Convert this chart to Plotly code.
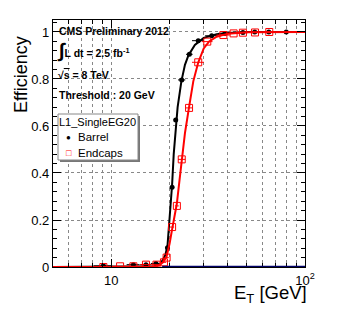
import plotly.graph_objects as go

# ---- data ----
barrel_x = [9.1, 13.0, 15.1, 17.0, 19.5, 20.6, 21.5, 23.1, 25.3, 28.1, 33.0, 38.6, 47.8, 55.0, 65.0, 80.0]
barrel_y = [0.005, 0.01, 0.01, 0.015, 0.082, 0.339, 0.626, 0.796, 0.905, 0.963, 0.984, 0.994, 0.998, 1.0, 1.0, 1.0]
barrel_xerr = [1.0, 1.0, 1.0, 1.0, 0.5, 0.5, 0.5, 1.0, 1.0, 2.0, 2.5, 3.0, 5.0, 5.0, 5.0, 10.0]

endcap_x = [9.1, 11.1, 13.0, 15.1, 17.1, 18.7, 19.3, 20.6, 21.8, 23.1, 25.2, 28.1, 31.3, 37.9, 42.8, 47.8, 55.2, 65.4]
endcap_y = [0.0, 0.003, 0.003, 0.01, 0.01, 0.02, 0.04, 0.17, 0.26, 0.458, 0.677, 0.871, 0.959, 0.987, 0.994, 0.997, 0.998, 1.0]
endcap_xerr = [1.0, 1.0, 1.0, 1.0, 1.0, 0.5, 0.5, 0.5, 0.5, 1.0, 1.0, 2.0, 2.0, 3.0, 3.0, 3.0, 5.0, 5.0]

barrel_fit_x = [5, 15, 17, 18, 19, 19.5, 20, 20.6, 21, 21.5, 22, 23, 24, 25, 27, 30, 35, 40, 50, 100]
barrel_fit_y = [0, 0, 0.003, 0.015, 0.05, 0.09, 0.2, 0.35, 0.48, 0.6, 0.68, 0.79, 0.86, 0.9, 0.945, 0.975, 0.99, 0.996, 1.0, 1.0]

endcap_fit_x = [5, 16, 17.5, 18.5, 19.3, 20, 20.6, 21.2, 21.8, 22.5, 23.1, 24, 25.2, 26.5, 28.1, 30, 32, 35, 40, 50, 100]
endcap_fit_y = [0, 0, 0.005, 0.02, 0.045, 0.1, 0.16, 0.21, 0.27, 0.37, 0.45, 0.57, 0.68, 0.79, 0.87, 0.93, 0.96, 0.98, 0.993, 0.999, 1.0]

x_tickvals = [10, 100]
x_ticktext = ["10", "10<sup>2</sup>"]
x_minor = [6, 7, 8, 9, 20, 30, 40, 50, 60, 70, 80, 90]
y_tickvals = [0, 0.2, 0.4, 0.6, 0.8, 1.0]
y_ticktext = ["0", "0.2", "0.4", "0.6", "0.8", "1"]

legend_title = "L1_SingleEG20"
series_names = ["Barrel", "Endcaps"]

FONT = "Liberation Sans, Arial, Helvetica, sans-serif"
L, R, T, B = 53, 33, 20, 46
W, H = 338, 313
PW, PH = W - L - R, H - T - B


def px(xp):
    return (xp - L) / PW


def py(yp):
    return (H - B - yp) / PH


fig = go.Figure()

fig.add_trace(go.Scatter(
    x=barrel_fit_x, y=barrel_fit_y, mode="lines",
    line=dict(color="black", width=2), showlegend=False, hoverinfo="skip"))
fig.add_trace(go.Scatter(
    x=barrel_x, y=barrel_y, mode="markers", name=series_names[0], showlegend=False,
    marker=dict(symbol="circle", color="black", size=5),
    error_x=dict(type="data", array=barrel_xerr, color="black", thickness=1, width=0)))
fig.add_trace(go.Scatter(
    x=endcap_fit_x, y=endcap_fit_y, mode="lines",
    line=dict(color="red", width=2), showlegend=False, hoverinfo="skip"))
fig.add_trace(go.Scatter(
    x=endcap_x, y=endcap_y, mode="markers", name=series_names[1], showlegend=False,
    marker=dict(symbol="square-open", color="red", size=7, line=dict(width=1)),
    error_x=dict(type="data", array=endcap_xerr, color="red", thickness=1, width=0)))

# navy baseline at zero on the right part of the frame
fig.add_shape(type="line", xref="x", yref="y", x0=18.3, x1=100, y0=0, y1=0,
              line=dict(color="#000066", width=2.5), layer="above")

# manual legend box with shadow
fig.add_shape(type="rect", xref="paper", yref="paper",
              x0=px(60), x1=px(140), y0=py(162), y1=py(116),
              fillcolor="#777777", line=dict(width=0), layer="above")
fig.add_shape(type="rect", xref="paper", yref="paper",
              x0=px(58), x1=px(138), y0=py(160), y1=py(114),
              fillcolor="white", line=dict(color="#888888", width=1), layer="above")

ann = [
    dict(text="<b>CMS Preliminary 2012</b>", x=px(57), y=py(31), size=10.5),
    dict(text="<b><span style='font-size:20px'>∫</span>L dt = 2.5 fb<sup>-1</sup></b>", x=px(55), y=py(50), size=10.5),
    dict(text="<b>√<span style='text-decoration:overline'>s</span> = 8 TeV</b>", x=px(56), y=py(75), size=10.5),
    dict(text="<b>Threshold : 20 GeV</b>", x=px(57), y=py(95), size=10.5),
    dict(text=legend_title, x=px(57), y=py(122), size=11),
    dict(text=series_names[0], x=px(76), y=py(137), size=11.5),
    dict(text=series_names[1], x=px(76), y=py(153), size=11.5),
    dict(text="●", x=px(64), y=py(137), size=8),
    dict(text="<span style='color:red'>□</span>", x=px(63.5), y=py(153), size=9),
]
for a in ann:
    fig.add_annotation(text=a["text"], x=a["x"], y=a["y"], xref="paper", yref="paper",
                       xanchor="left", yanchor="middle", showarrow=False,
                       font=dict(family=FONT, size=a["size"], color="black"))

fig.add_annotation(text="Efficiency", xref="paper", yref="paper",
                   x=px(21), y=py(75), textangle=-90,
                   xanchor="center", yanchor="middle", showarrow=False,
                   font=dict(family=FONT, size=18, color="black"))
fig.add_annotation(text="E<sub>T</sub> [GeV]", xref="paper", yref="paper",
                   x=px(309), y=py(294),
                   xanchor="right", yanchor="middle", showarrow=False,
                   font=dict(family=FONT, size=18.5, color="black"))

fig.update_layout(
    width=W, height=H,
    margin=dict(l=L, r=R, t=T, b=B, pad=0, autoexpand=False),
    paper_bgcolor="white", plot_bgcolor="white",
    font=dict(family=FONT, size=13, color="black"),
    showlegend=False,
    xaxis=dict(
        type="log", range=[0.69897, 2.0], automargin=False,
        tickvals=x_tickvals, ticktext=x_ticktext,
        ticks="inside", ticklen=8, tickcolor="black",
        showline=True, linecolor="black", linewidth=1.2, mirror="ticks",
        showgrid=True, gridcolor="#888888", griddash="dot", gridwidth=1,
        zeroline=False, ticklabelstandoff=1,
        tickfont=dict(size=13, family=FONT),
        minor=dict(tickvals=x_minor, ticks="inside", ticklen=4, tickcolor="black",
                   showgrid=True, gridcolor="#888888", griddash="dot", gridwidth=1),
    ),
    yaxis=dict(
        range=[0, 1.051], automargin=False,
        tickvals=y_tickvals, ticktext=y_ticktext,
        ticks="inside", ticklen=8, tickcolor="black",
        showline=True, linecolor="black", linewidth=1.2, mirror="ticks",
        showgrid=True, gridcolor="#888888", griddash="dot", gridwidth=1,
        zeroline=False,
        tickfont=dict(size=13, family=FONT),
        minor=dict(dtick=0.04, ticks="inside", ticklen=4, tickcolor="black", showgrid=False),
    ),
)

fig.write_html("out.html", config={"displayModeBar": False},
               post_script="document.body.style.margin='0';")
